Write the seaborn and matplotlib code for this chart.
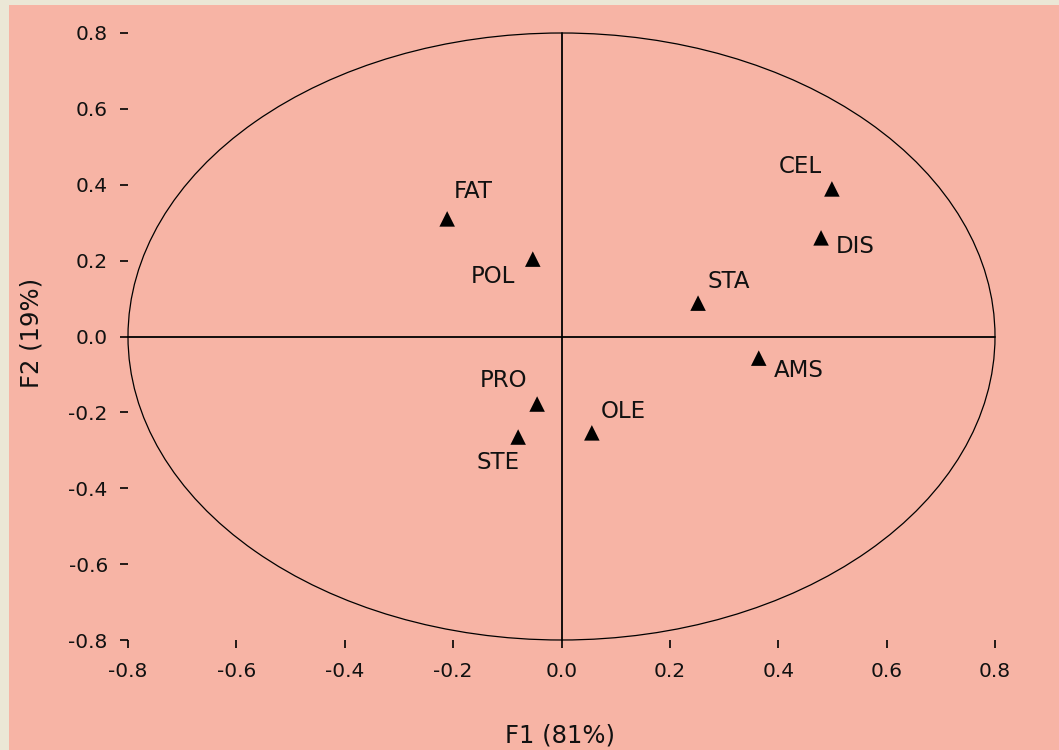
import matplotlib
matplotlib.use("Agg")
import matplotlib.pyplot as plt
from matplotlib.patches import Ellipse, Rectangle
import pandas as pd
import seaborn as sns

# PCA loadings
labels = ["FAT", "POL", "PRO", "STE", "OLE", "CEL", "DIS", "STA", "AMS"]
f1 = [-0.211, -0.053, -0.045, -0.080, 0.056, 0.499, 0.479, 0.252, 0.364]
f2 = [0.310, 0.204, -0.178, -0.265, -0.254, 0.389, 0.260, 0.088, -0.057]
ticks = [-0.8, -0.6, -0.4, -0.2, 0.0, 0.2, 0.4, 0.6, 0.8]

# label placement (pixels from the marker)
offsets = {
    "FAT": (26, 27), "POL": (-40, -17), "PRO": (-34, 24),
    "STE": (-20, -25), "OLE": (31, 21), "CEL": (-32, 22),
    "DIS": (34, -9), "STA": (31, 22), "AMS": (40, -12),
}

SALMON = "#f7b4a5"
BEIGE = "#ebe7d6"

sns.set_style("white")
plt.rcParams["font.family"] = ["DejaVu Sans"]

df = pd.DataFrame({"var": labels, "F1": f1, "F2": f2})

fig = plt.figure(figsize=(10.59, 7.50), dpi=100, facecolor=BEIGE)
fig.patches.append(Rectangle((9 / 1059, 0), 1, 745 / 750, transform=fig.transFigure,
                             facecolor=SALMON, edgecolor="none", zorder=-10))
ax = fig.add_axes([128 / 1059, 110 / 750, 867 / 1059, 607 / 750])
ax.set_facecolor("none")

ax.add_patch(Ellipse((0, 0), 1.6, 1.6, fill=False, edgecolor="black", lw=0.9, clip_on=False))
ax.plot([-0.8, 0.8], [0, 0], color="black", lw=1.3, clip_on=False)
ax.plot([0, 0], [-0.8, 0.8], color="black", lw=1.3, clip_on=False)

sns.scatterplot(data=df, x="F1", y="F2", marker="^", s=125, color="black",
                edgecolor="none", ax=ax, zorder=3, clip_on=False)

for lab, x, y in zip(labels, f1, f2):
    dx, dy = offsets[lab]
    ax.annotate(lab, (x, y), xytext=(dx, dy), textcoords="offset pixels",
                ha="center", va="center", fontsize=16.5, color="#111111")

ax.set_xlim(-0.8, 0.8)
ax.set_ylim(-0.8, 0.8)
ax.set_xticks(ticks)
ax.set_yticks(ticks)
ax.set_xticklabels([f"{t:.1f}" for t in ticks])
ax.set_yticklabels([f"{t:.1f}" for t in ticks])
ax.set_xlabel("")
ax.set_ylabel("")
for s in ax.spines.values():
    s.set_visible(False)
ax.tick_params(axis="both", direction="out", length=5.5, width=1.2, color="black",
               labelsize=14.5, labelcolor="#111111", bottom=True, left=True)
ax.tick_params(axis="x", pad=10)
ax.tick_params(axis="y", pad=9)

fig.text(560 / 1059, 1 - 735 / 750, "F1 (81%)", ha="center", va="center",
         fontsize=17.5, color="#111111")
fig.text(32 / 1059, 1 - 333 / 750, "F2 (19%)", ha="center", va="center",
         rotation=90, fontsize=17.5, color="#111111")

fig.savefig("out.png", dpi=100, facecolor=BEIGE)
